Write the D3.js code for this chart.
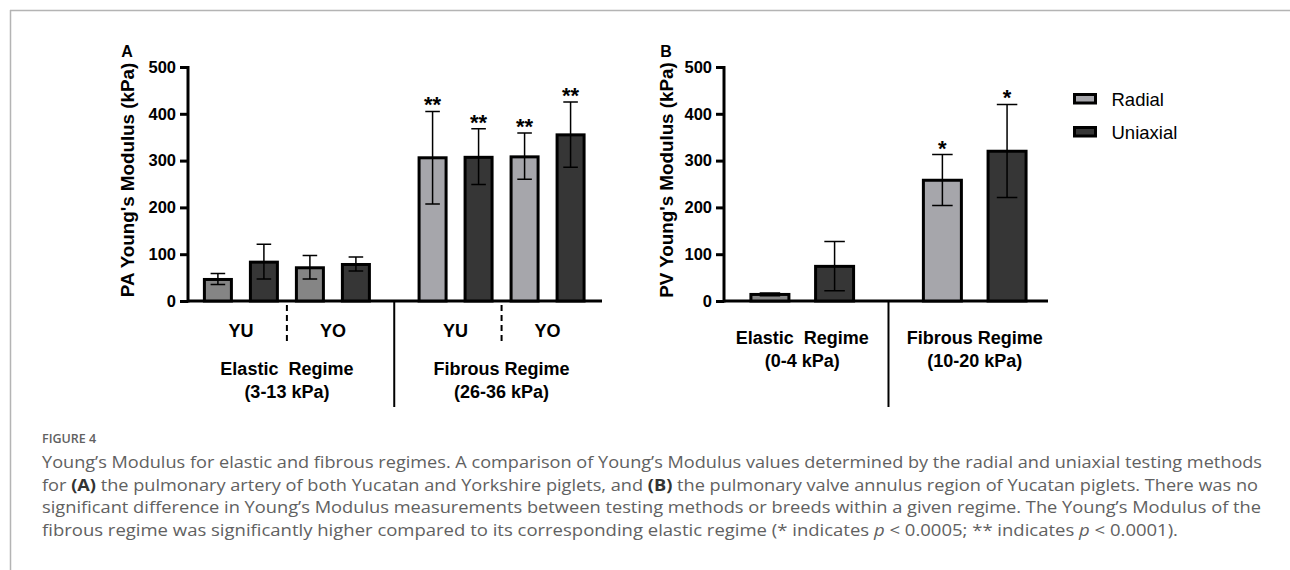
<!DOCTYPE html>
<html>
<head>
<meta charset="utf-8">
<script src="https://cdn.jsdelivr.net/npm/d3@7"></script>
<style>
  body { margin: 0; background: #fff; }
  svg { display: block; }
  .chart text { font-family: "Liberation Sans", Arial, sans-serif; font-weight: bold; fill: #000; }
  .caption text { font-family: "Open Sans", "Noto Sans", sans-serif; fill: #616161; }
</style>
</head>
<body>
<div id="viz"></div>
<script>
// panel A: pulmonary artery (YU = Yucatan, YO = Yorkshire)
var regimesA = ["Elastic  Regime", "Fibrous Regime"],
    rangesA = ["(3-13 kPa)", "(26-36 kPa)"],
    breedsA = ["YU", "YO", "YU", "YO"];
var meanA = [46, 83, 71, 78, 306, 307, 308, 355],
    lowA  = [35, 47, 47, 64, 207, 249, 260, 286],
    highA = [59, 121, 97, 94, 405, 368, 359, 425],
    starsA = ["", "", "", "", "**", "**", "**", "**"];

// panel B: pulmonary valve annulus
var regimesB = ["Elastic  Regime", "Fibrous Regime"],
    rangesB = ["(0-4 kPa)", "(10-20 kPa)"];
var meanB = [14, 74, 258, 320],
    lowB  = [11, 22, 204, 221],
    highB = [17, 127, 313, 420],
    starsB = ["", "", "*", "*"];

var methods = ["Radial", "Uniaxial"];
var yTicks = [0, 100, 200, 300, 400, 500];

var captionLines = [
  "Young’s Modulus for elastic and fibrous regimes. A comparison of Young’s Modulus values determined by the radial and uniaxial testing methods",
  "for |(A)| the pulmonary artery of both Yucatan and Yorkshire piglets, and |(B)| the pulmonary valve annulus region of Yucatan piglets. There was no",
  "significant difference in Young’s Modulus measurements between testing methods or breeds within a given regime. The Young’s Modulus of the",
  "fibrous regime was significantly higher compared to its corresponding elastic regime (* indicates ~p~ < 0.0005; ** indicates ~p~ < 0.0001)."
];

var width = 1290, height = 570;
var colElastic = "#858585", colFibrous = "#a6a6ab", colUni = "#363636";

var svg = d3.select("#viz")
  .append("svg")
  .attr("width", width)
  .attr("height", height);

// frame lines
svg.append("line").attr("x1", 10).attr("x2", width).attr("y1", 10.5).attr("y2", 10.5)
  .attr("stroke", "#b4b4b4").attr("stroke-width", 1.5);
svg.append("line").attr("x1", 10.5).attr("x2", 10.5).attr("y1", 10).attr("y2", height)
  .attr("stroke", "#b4b4b4").attr("stroke-width", 1.5);

var chart = svg.append("g").attr("class", "chart");

function drawPanel(p) {
  var g = chart.append("g");
  var n = p.mean.length, perGroup = n / 2;
  // slot position of each bar, with a wider gap between the two regimes
  var pos = p.mean.map((d, i) => i + Math.floor(i / perGroup) * 0.667);

  var x = d3.scaleLinear().domain(p.xDomain).range(p.xRange),
      y = d3.scaleLinear().domain([0, 500]).range([301, 67]);

  // y axis
  var yAxis = d3.axisLeft(y).tickValues(yTicks).tickSize(8).tickSizeOuter(0).tickPadding(4);
  var ax = g.append("g")
    .attr("transform", "translate(" + p.xRange[0] + ",0)")
    .call(yAxis);
  ax.select(".domain").attr("stroke-width", 3).attr("d", "M0," + (y(0) + 1.5) + "V" + (y(500) - 1));
  ax.selectAll(".tick line").attr("stroke-width", 3);
  ax.selectAll(".tick text")
    .style("font-family", "'Liberation Sans', Arial, sans-serif")
    .style("font-weight", "bold")
    .style("font-size", "16.5px")
    .attr("fill", "#000");

  // baseline
  g.append("line")
    .attr("x1", p.xRange[0]).attr("x2", p.xRange[1])
    .attr("y1", y(0)).attr("y2", y(0))
    .attr("stroke", "#000").attr("stroke-width", 3);

  // bars
  g.selectAll(".bar")
    .data(p.mean)
    .enter().append("rect")
    .attr("class", "bar")
    .attr("x", (d, i) => x(pos[i]) - p.barW / 2)
    .attr("y", d => y(d))
    .attr("width", p.barW)
    .attr("height", d => y(0) - y(d))
    .attr("fill", (d, i) => i % 2 ? colUni : (i < perGroup ? colElastic : colFibrous))
    .attr("stroke", "#000")
    .attr("stroke-width", 3);

  // error bars
  var cap = p.barW * 0.27;
  p.mean.forEach((d, i) => {
    var cx = x(pos[i]);
    g.append("path")
      .attr("d", "M" + cx + "," + y(p.low[i]) + "V" + y(p.high[i]) +
        "M" + (cx - cap) + "," + y(p.high[i]) + "H" + (cx + cap) +
        "M" + (cx - cap) + "," + y(p.low[i]) + "H" + (cx + cap))
      .attr("fill", "none").attr("stroke", "#000").attr("stroke-width", 1.5);
    if (p.stars[i]) {
      g.append("text")
        .attr("x", cx).attr("y", y(p.high[i]) + 1)
        .attr("text-anchor", "middle")
        .style("font-size", "22px")
        .text(p.stars[i]);
    }
  });

  // group labels
  var labelY = p.breeds ? 369 : 338;
  [0, 1].forEach(k => {
    var c = (x(pos[k * perGroup]) + x(pos[k * perGroup + perGroup - 1])) / 2;
    g.append("text").attr("x", c).attr("y", labelY + 6)
      .attr("text-anchor", "middle").style("font-size", "18px").style("white-space", "pre")
      .text(p.regimes[k]);
    g.append("text").attr("x", c).attr("y", labelY + 29)
      .attr("text-anchor", "middle").style("font-size", "18px")
      .text(p.ranges[k]);
  });

  // solid divider between regimes
  var mid = (x(pos[perGroup - 1]) + x(pos[perGroup])) / 2;
  g.append("line").attr("x1", mid).attr("x2", mid).attr("y1", y(0)).attr("y2", 407)
    .attr("stroke", "#000").attr("stroke-width", 2);

  // breed labels and dashed dividers
  if (p.breeds) {
    p.breeds.forEach((b, k) => {
      var c = (x(pos[k * 2]) + x(pos[k * 2 + 1])) / 2;
      g.append("text").attr("x", c).attr("y", 337)
        .attr("text-anchor", "middle").style("font-size", "18px").text(b);
    });
    [0, 1].forEach(k => {
      var dx = (x(pos[k * perGroup + 1]) + x(pos[k * perGroup + 2])) / 2;
      g.append("line").attr("x1", dx).attr("x2", dx).attr("y1", 305).attr("y2", 344)
        .attr("stroke", "#000").attr("stroke-width", 2).attr("stroke-dasharray", "6,4");
    });
  }

  // y title and panel letter
  g.append("text")
    .attr("transform", "translate(" + (p.titleX + 7) + ",180) rotate(-90)")
    .attr("text-anchor", "middle")
    .style("font-size", "18.8px")
    .text(p.title);
  g.append("text").attr("x", p.titleX).attr("y", 57)
    .attr("text-anchor", "middle").style("font-size", "16px").text(p.letter);
}

drawPanel({
  mean: meanA, low: lowA, high: highA, stars: starsA,
  regimes: regimesA, ranges: rangesA, breeds: breedsA,
  xDomain: [-0.65, 8.35], xRange: [188, 602], barW: 27,
  title: "PA Young's Modulus (kPa)", titleX: 127, letter: "A"
});

drawPanel({
  mean: meanB, low: lowB, high: highB, stars: starsB,
  regimes: regimesB, ranges: rangesB, breeds: null,
  xDomain: [-0.71, 4.3], xRange: [724, 1048], barW: 38,
  title: "PV Young's Modulus (kPa)", titleX: 666, letter: "B"
});

// legend
var legend = chart.append("g").attr("transform", "translate(1074.5,94.5)");
methods.forEach((m, i) => {
  legend.append("rect")
    .attr("x", 0).attr("y", i * 33)
    .attr("width", 21).attr("height", 8.5)
    .attr("fill", i ? colUni : colFibrous)
    .attr("stroke", "#000").attr("stroke-width", 3);
  legend.append("text")
    .attr("x", 37).attr("y", i * 33 + 11)
    .style("font-weight", "normal")
    .style("font-size", "18.5px")
    .text(m);
});

// caption
var caption = svg.append("g").attr("class", "caption");
caption.append("text")
  .attr("x", 42).attr("y", 443)
  .style("font-size", "12.5px").style("font-weight", "600")
  .attr("fill", "#666")
  .text("FIGURE 4");

var lineEnds = [1262, 1258, 1261, 1178];
captionLines.forEach((line, i) => {
  var t = caption.append("text")
    .attr("x", 42).attr("y", 468 + i * 22.6)
    .style("font-size", "16.5px");
  if (lineEnds[i]) t.attr("textLength", lineEnds[i] - 42).attr("lengthAdjust", "spacingAndGlyphs");
  // | marks bold, ~ marks italic
  line.split(/(\|[^|]*\||~[^~]*~)/).forEach(part => {
    if (!part) return;
    var s = t.append("tspan");
    if (part[0] === "|") s.style("font-weight", "bold").attr("fill", "#333").text(part.slice(1, -1));
    else if (part[0] === "~") s.style("font-style", "italic").text(part.slice(1, -1));
    else s.text(part);
  });
});
</script>
</body>
</html>
